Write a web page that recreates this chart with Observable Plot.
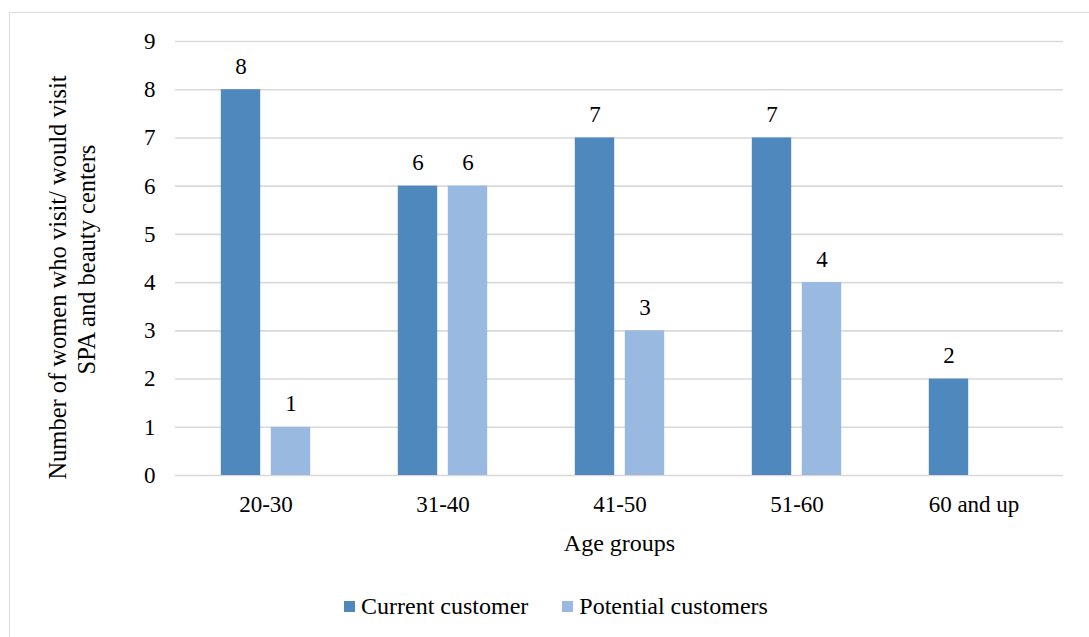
<!DOCTYPE html>
<html>
<head>
<meta charset="utf-8">
<script src="https://cdn.jsdelivr.net/npm/d3@7"></script>
<script src="https://cdn.jsdelivr.net/npm/@observablehq/plot@0.6"></script>
<style>
  html, body { margin: 0; padding: 0; background: #fff; overflow: hidden; }
  #wrap { position: relative; width: 1089px; height: 637px; font-family: "Liberation Serif", "Times New Roman", serif; }
  #frame { position: absolute; left: 9px; top: 12px; width: 1200px; height: 700px; border: 1px solid #d9d9d9; box-sizing: border-box; pointer-events: none; }
  #chart { position: absolute; left: 0; top: 0; }
  #legend { position: absolute; left: 344px; top: 593px; display: flex; align-items: center; font-size: 24px; color: #000; white-space: nowrap; }
  .item { display: flex; align-items: center; }
  .sw { width: 11px; height: 11px; margin-right: 6px; }
</style>
</head>
<body>
<div id="wrap">
  <div id="frame"></div>
  <div id="chart"></div>
  <div id="legend"></div>
</div>
<script>
const categories = ["20-30", "31-40", "41-50", "51-60", "60 and up"];
const seriesNames = ["Current customer", "Potential customers"];
const currentValues = [8, 6, 7, 7, 2];
const potentialValues = [1, 6, 3, 4, null];
const yTicks = [0, 1, 2, 3, 4, 5, 6, 7, 8, 9];
const colors = ["#4F88BD", "#99B9E0"];
const xTitle = "Age groups";
const yTitleLine1 = "Number of women who visit/ would visit";
const yTitleLine2 = "SPA and beauty centers";

const currentRows = categories.map((c, i) => ({age: c, value: currentValues[i]})).filter(d => d.value != null);
const potentialRows = categories.map((c, i) => ({age: c, value: potentialValues[i]})).filter(d => d.value != null);

const W = 1089, H = 580;
const mL = 175, mR = 26, mT = 41, mB = 105;
const band = (W - mL - mR) / categories.length;
const barW = 40, gap = 10;
const outer = (band - 2 * barW - gap) / 2;

const plot = Plot.plot({
  width: W,
  height: H,
  marginLeft: mL,
  marginRight: mR,
  marginTop: mT,
  marginBottom: mB,
  style: {fontFamily: "'Liberation Serif', 'Times New Roman', serif", fontSize: "23px", color: "#000", background: "transparent"},
  x: {domain: categories, padding: 0, tickSize: 0, tickPadding: 20, label: null},
  y: {domain: [0, 9], ticks: yTicks, tickSize: 0, tickPadding: 20, label: null, tickFormat: d => String(d)},
  marks: [
    Plot.ruleY(yTicks, {stroke: "#d9d9d9", strokeWidth: 1.6}),
    Plot.barY(currentRows, {x: "age", y: "value", fill: colors[0], insetLeft: outer, insetRight: band - outer - barW}),
    Plot.barY(potentialRows, {x: "age", y: "value", fill: colors[1], insetLeft: outer + barW + gap, insetRight: outer}),
    Plot.text(currentRows, {x: "age", y: "value", text: d => String(d.value), dx: -(barW + gap) / 2, dy: -16, lineAnchor: "bottom", fontSize: 23, fill: "#000"}),
    Plot.text(potentialRows, {x: "age", y: "value", text: d => String(d.value), dx: (barW + gap) / 2, dy: -16, lineAnchor: "bottom", fontSize: 23, fill: "#000"}),
    Plot.text([xTitle], {frameAnchor: "bottom", dy: 68, lineAnchor: "middle", textAnchor: "middle", fontSize: 24, fill: "#000"}),
    Plot.text([yTitleLine1], {frameAnchor: "left", dx: -117, dy: 19, rotate: -90, textAnchor: "middle", lineAnchor: "middle", fontSize: 24.5, fill: "#000"}),
    Plot.text([yTitleLine2], {frameAnchor: "left", dx: -88, dy: 1, rotate: -90, textAnchor: "middle", lineAnchor: "middle", fontSize: 24.5, fill: "#000"})
  ]
});
document.getElementById("chart").appendChild(plot);

const legend = document.getElementById("legend");
seriesNames.forEach((name, i) => {
  const item = document.createElement("div");
  item.className = "item";
  if (i > 0) item.style.marginLeft = "34px";
  const sw = document.createElement("div");
  sw.className = "sw";
  sw.style.background = colors[i];
  const t = document.createElement("span");
  t.textContent = name;
  item.appendChild(sw);
  item.appendChild(t);
  legend.appendChild(item);
});
</script>
</body>
</html>
